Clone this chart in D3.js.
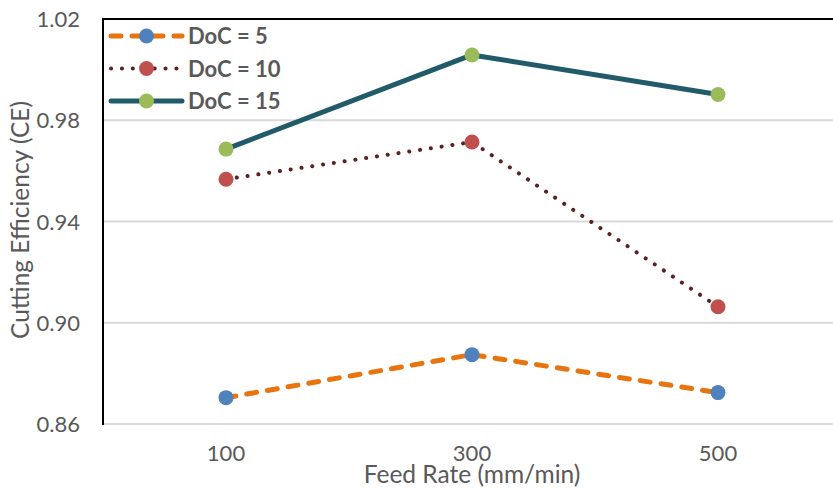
<!DOCTYPE html>
<html><head><meta charset="utf-8">
<script src="https://cdn.jsdelivr.net/npm/d3@7/dist/d3.min.js"></script>
<style>body{margin:0;background:#fff}svg{display:block}</style>
</head><body>
<svg id="c" width="833" height="489"></svg>
<script>
const categories = ["100", "300", "500"];
const seriesNames = ["DoC = 5", "DoC = 10", "DoC = 15"];
const doc5 = [0.8704, 0.8874, 0.8724];
const doc10 = [0.9567, 0.9714, 0.9063];
const doc15 = [0.9686, 1.0058, 0.9902];
const yTicks = [0.86, 0.90, 0.94, 0.98, 1.02];

const lineColors = ["#E8740F", "#5C1F22", "#215A69"];
const markerColors = ["#4F81BD", "#C0504D", "#9BBB59"];
const dashes = ["10,11", "0.1,10.8", null];
const widths = [5, 4, 5];
const allSeries = [doc5, doc10, doc15];

const font = "Lato, 'Open Sans', sans-serif";
const svg = d3.select("#c");
const x = d3.scalePoint().domain(categories).range([103, 841]).padding(0.5);
const y = d3.scaleLinear().domain([0.86, 1.02]).range([424, 19]);

// gridlines
svg.append("g").selectAll("line").data(yTicks.slice(0, 4)).join("line")
  .attr("x1", 103).attr("x2", 841)
  .attr("y1", d => y(d)).attr("y2", d => y(d))
  .attr("stroke", "#D9D9D9").attr("stroke-width", 2);
// top border
svg.append("line").attr("x1", 102).attr("x2", 841).attr("y1", y(1.02)).attr("y2", y(1.02))
  .attr("stroke", "#000").attr("stroke-width", 2);
// left axis line
svg.append("line").attr("x1", 103).attr("x2", 103).attr("y1", y(1.02) - 1).attr("y2", y(0.86) + 1)
  .attr("stroke", "#000").attr("stroke-width", 2);

// y tick labels
svg.append("g").selectAll("text").data(yTicks).join("text")
  .attr("x", 80).attr("y", d => y(d) + 8)
  .attr("text-anchor", "end").attr("font-family", font).attr("font-size", 22)
  .attr("fill", "#595959").text(d => d.toFixed(2));
// x tick labels
svg.append("g").selectAll("text").data(categories).join("text")
  .attr("x", d => x(d)).attr("y", 461)
  .attr("text-anchor", "middle").attr("font-family", font).attr("font-size", 22)
  .attr("fill", "#595959").text(d => d);
// axis titles
svg.append("text").attr("x", 472).attr("y", 483).attr("text-anchor", "middle")
  .attr("font-family", font).attr("font-size", 24.5).attr("fill", "#595959")
  .text("Feed Rate (mm/min)");
svg.append("text").attr("transform", "translate(29,220) rotate(-90)").attr("text-anchor", "middle")
  .attr("font-family", font).attr("font-size", 24.5).attr("fill", "#595959")
  .text("Cutting Efficiency (CE)");

const line = d3.line().x((d, i) => x(categories[i])).y(d => y(d));
allSeries.forEach((s, k) => {
  svg.append("path").datum(s).attr("d", line).attr("fill", "none")
    .attr("stroke", lineColors[k]).attr("stroke-width", widths[k])
    .attr("stroke-linecap", "round").attr("stroke-linejoin", "round")
    .attr("stroke-dasharray", dashes[k]);
});
allSeries.forEach((s, k) => {
  svg.append("g").selectAll("circle").data(s).join("circle")
    .attr("cx", (d, i) => x(categories[i])).attr("cy", d => y(d)).attr("r", 7.5)
    .attr("fill", markerColors[k]);
});

// legend
const lg = svg.append("g");
seriesNames.forEach((n, k) => {
  const yy = 36 + k * 32.5;
  lg.append("line").attr("x1", 111).attr("x2", 182).attr("y1", yy).attr("y2", yy)
    .attr("stroke", lineColors[k]).attr("stroke-width", widths[k])
    .attr("stroke-linecap", "round").attr("stroke-dasharray", dashes[k]);
  lg.append("circle").attr("cx", 146.5).attr("cy", yy).attr("r", 7.5).attr("fill", markerColors[k]);
  lg.append("text").attr("x", 188).attr("y", yy + 8).attr("font-family", font)
    .attr("font-size", 22).attr("font-weight", "bold").attr("fill", "#595959").text(n);
});
</script>
</body></html>
